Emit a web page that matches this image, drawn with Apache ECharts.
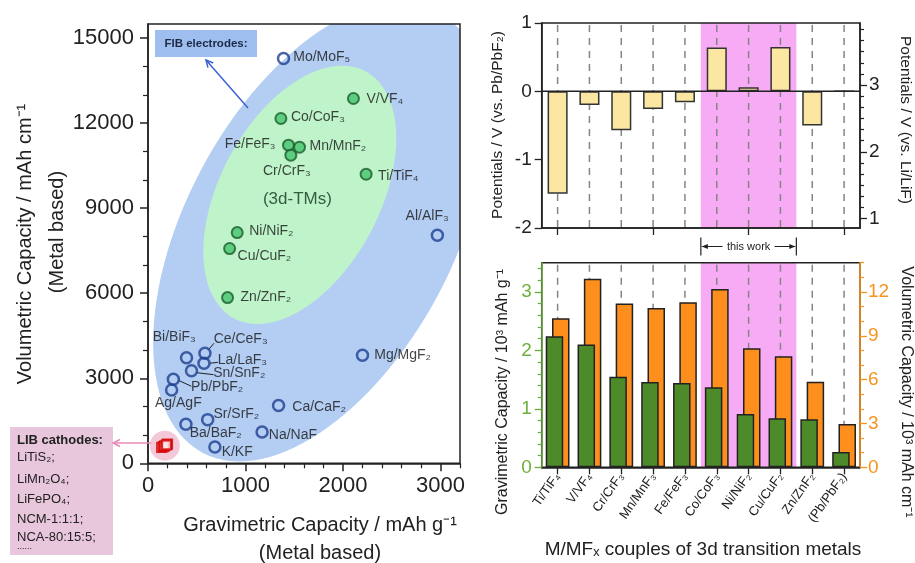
<!DOCTYPE html>
<html><head><meta charset="utf-8">
<script src="https://cdn.jsdelivr.net/npm/echarts@6/dist/echarts.min.js"></script>
<style>html,body{margin:0;padding:0;background:#fff}#c{width:915px;height:563px}</style>
</head><body><div id="c"></div>
<script>
// ---------------- DATA ----------------
// Left scatter: FIB electrodes (open blue circles)
const fibNames = ['Mo/MoF₅','Al/AlF₃','Mg/MgF₂','Bi/BiF₃','Ce/CeF₃','La/LaF₃','Sn/SnF₂','Pb/PbF₂','Ag/AgF','Ca/CaF₂','Sr/SrF₂','Ba/BaF₂','Na/NaF','K/KF'];
const fibGrav  = [1390, 2968, 2200, 395, 584, 574, 446, 260, 242, 1339, 612, 389, 1170, 686];
const fibVol   = [14280, 8047, 3812, 3726, 3882, 3529, 3268, 2965, 2587, 2036, 1541, 1376, 1106, 576];
// 3d transition metals (filled green circles)
const tmNames = ['V/VF₄','Co/CoF₃','Fe/FeF₃','Mn/MnF₂','Cr/CrF₃','Ti/TiF₄','Ni/NiF₂','Cu/CuF₂','Zn/ZnF₂'];
const tmGrav  = [2107, 1363, 1441, 1554, 1465, 2237, 915, 837, 816];
const tmVol   = [12872, 12166, 11224, 11153, 10871, 10200, 8141, 7577, 5847];
// LIB cathodes (red squares)
const libNames = ['LiTiS₂','LiMn₂O₄','LiFePO₄','NCM-1:1:1','NCA-80:15:5'];
const libGrav  = [200, 140, 160, 172, 190];
const libVol   = [680, 560, 590, 620, 650];
// Right panels
const couples = ['Ti/TiF₄','V/VF₄','Cr/CrF₃','Mn/MnF₃','Fe/FeF₃','Co/CoF₃','Ni/NiF₂','Cu/CuF₂','Zn/ZnF₂','(Pb/PbF₂)'];
const potentialVsPb = [-1.50, -0.20, -0.57, -0.26, -0.16, 0.64, 0.06, 0.65, -0.50, 0];
const gravCapacity  = [2.24, 2.10, 1.55, 1.46, 1.44, 1.37, 0.91, 0.84, 0.82, 0.26];   // 10^3 mAh/g
const volCapacity   = [10.2, 12.9, 11.2, 10.9, 11.3, 12.2, 8.15, 7.6, 5.85, 2.97];     // 10^3 mAh/cm3
const thisWork = ['Co/CoF₃', 'Cu/CuF₂'];
// Tick values
const sxMajor = [0, 1000, 2000, 3000];
const syMajor = [0, 3000, 6000, 9000, 12000, 15000];
const potPbMajor = [-2, -1, 0, 1];
const potLiMajor = [1, 2, 3];
const gravMajor = [0, 1, 2, 3];
const volMajor = [0, 3, 6, 9, 12];

// ---------------- STYLE / LAYOUT ----------------
const FONT = '"Liberation Sans", Arial, sans-serif';
const TXT = '#222';
const PINK = '#f8abf5';
const plain = v => String(v);
function range(a, b, s) { const r = []; for (let k = 0; a + k * s <= b + 1e-9; k++) r.push(+(a + k * s).toFixed(6)); return r; }
function minorOf(vals, majors) { return vals.filter(v => !majors.some(m => Math.abs(m - v) < 1e-6)); }
const sxMinor = minorOf(range(0, 3200, 200), sxMajor);
const syMinor = minorOf(range(0, 15000, 1000), syMajor);
const potLiMinor = minorOf(range(1, 3.93, 1 / 6), potLiMajor);
const gravMinor = minorOf(range(0, 3.4, 0.2), gravMajor);
const volMinor = minorOf(range(0, 14, 1), volMajor);

// label offsets (px) from point centre: [dx, dy, align]
const LABELS = {
  'Mo/MoF₅': [11, 0, 'left'], 'Al/AlF₃': [-9, -18, 'center'], 'Mg/MgF₂': [13, 1, 'left'],
  'Bi/BiF₃': [-11, -19, 'center'], 'Ce/CeF₃': [10, -13, 'left'], 'La/LaF₃': [15, -2, 'left'],
  'Sn/SnF₂': [23, 4, 'left'], 'Pb/PbF₂': [19, 9, 'left'], 'Ag/AgF': [8, 14, 'center'],
  'Ca/CaF₂': [15, 3, 'left'], 'Sr/SrF₂': [7, -4, 'left'], 'Ba/BaF₂': [5, 10, 'left'],
  'Na/NaF': [8, 4, 'left'], 'K/KF': [8, 6, 'left'],
  'V/VF₄': [14, 2, 'left'], 'Co/CoF₃': [11, 0, 'left'], 'Fe/FeF₃': [-12, 0, 'right'],
  'Mn/MnF₂': [11, 0, 'left'], 'Cr/CrF₃': [-3, 17, 'center'], 'Ti/TiF₄': [13, 3, 'left'],
  'Ni/NiF₂': [13, 0, 'left'], 'Cu/CuF₂': [9, 9, 'left'], 'Zn/ZnF₂': [14, 1, 'left']
};
const LEADERS = { 'Ce/CeF₃': [[4, -4], [9, -10]], 'La/LaF₃': [[6, 0], [14, -1]], 'Sn/SnF₂': [[5, 2], [22, 4]], 'Pb/PbF₂': [[5, 1], [18, 7]] };
// background ellipses: centre in data units, semi-axes in px, tilt in degrees
const ELLIPSES = [
  { cx: 1762, cy: 8164, a: 250, b: 134, angle: 62, color: '#b3cdf3' },
  { cx: 1557, cy: 9470, a: 140, b: 80, angle: 62, color: '#bff4ca' }
];
const TM_NOTE = { x: 1532, y: 9318, text: '(3d-TMs)' };

const SYM = 11;
function pointData(names, xs, ys) {
  return names.map((n, i) => {
    const l = LABELS[n] || [10, 0, 'left'];
    return { name: n, value: [xs[i], ys[i]], label: { position: [SYM / 2 + l[0], SYM / 2 + l[1]], align: l[2] } };
  });
}
const ptLabel = { show: true, formatter: '{b}', verticalAlign: 'middle', fontSize: 14, color: '#151515', fontFamily: FONT };

function axisBase(extra) {
  return Object.assign({
    z: 11, splitLine: { show: false },
    axisLine: { show: true, onZero: false, lineStyle: { color: TXT, width: 1.5 } },
    axisTick: { show: true, inside: false, length: 7, lineStyle: { color: TXT, width: 1.3 } },
    axisLabel: { color: TXT, fontFamily: FONT, fontSize: 19 }
  }, extra);
}
function tickOnly(extra, vals, len, color) {
  return Object.assign({
    z: 11, splitLine: { show: false }, axisLine: { show: false, onZero: false },
    axisLabel: { show: false },
    axisTick: { show: true, length: len, customValues: vals, lineStyle: { color: color, width: 1.2 } }
  }, extra);
}
function lbl(vals, size, margin, color) {
  return { customValues: vals, formatter: plain, fontSize: size, margin: margin, color: color || TXT, fontFamily: FONT };
}
function tk(vals, len, color, w) {
  return { show: true, length: len, customValues: vals, lineStyle: { color: color || TXT, width: w || 1.3 } };
}

function ellipseRender(params, api) {
  const e = ELLIPSES[params.dataIndex];
  const c = api.coord([api.value(0), api.value(1)]);
  const th = e.angle * Math.PI / 180, pts = [];
  for (let i = 0; i < 120; i++) {
    const t = i / 120 * 2 * Math.PI, u = e.a * Math.cos(t), v = e.b * Math.sin(t);
    pts.push([c[0] + u * Math.cos(th) - v * Math.sin(th), c[1] - (u * Math.sin(th) + v * Math.cos(th))]);
  }
  return { type: 'polygon', shape: { points: pts }, style: { fill: e.color } };
}
function bandRender(withBracket) {
  return function (params, api) {
    const cs = params.coordSys;
    const bw = api.coord([1, 0])[0] - api.coord([0, 0])[0];
    const x0 = api.coord([api.value(0), 0])[0] - bw / 2;
    const x1 = api.coord([api.value(1), 0])[0] + bw / 2;
    const ch = [{ type: 'rect', shape: { x: x0, y: cs.y, width: x1 - x0, height: cs.height }, style: { fill: PINK } }];
    if (withBracket) {
      const yb = cs.y + cs.height + 18.5, xc = (x0 + x1) / 2, s = { stroke: TXT, lineWidth: 1.2 };
      ch.push(
        { type: 'line', shape: { x1: x0, y1: yb - 9, x2: x0, y2: yb + 9 }, style: s },
        { type: 'line', shape: { x1: x1, y1: yb - 9, x2: x1, y2: yb + 9 }, style: s },
        { type: 'line', shape: { x1: x0 + 1, y1: yb, x2: xc - 26, y2: yb }, style: { stroke: TXT, lineWidth: 1 } },
        { type: 'line', shape: { x1: xc + 26, y1: yb, x2: x1 - 1, y2: yb }, style: { stroke: TXT, lineWidth: 1 } },
        { type: 'polygon', shape: { points: [[x0 + 1, yb], [x0 + 7, yb - 2.5], [x0 + 7, yb + 2.5]] }, style: { fill: TXT } },
        { type: 'polygon', shape: { points: [[x1 - 1, yb], [x1 - 7, yb - 2.5], [x1 - 7, yb + 2.5]] }, style: { fill: TXT } },
        { type: 'text', x: xc, y: yb, style: { text: 'this work', fontSize: 11, fontFamily: FONT, fill: TXT, align: 'center', verticalAlign: 'middle' } }
      );
    }
    return { type: 'group', children: ch };
  };
}
function dashRender(params, api) {
  const cs = params.coordSys;
  const x = api.coord([api.value(0), 0])[0];
  return { type: 'line', shape: { x1: x, y1: cs.y + 2, x2: x, y2: cs.y + cs.height }, style: { stroke: '#858585', lineWidth: 1.5, lineDash: [7, 6] } };
}
function arrow(x1, y1, x2, y2, color, w) {
  const dx = x2 - x1, dy = y2 - y1, L = Math.hypot(dx, dy), ux = dx / L, uy = dy / L, px = -uy, py = ux, h = 7, hw = 3.5;
  return [
    { type: 'line', shape: { x1, y1, x2, y2 }, style: { stroke: color, lineWidth: w } },
    { type: 'polyline', shape: { points: [[x2 - h * ux + hw * px, y2 - h * uy + hw * py], [x2, y2], [x2 - h * ux - hw * px, y2 - h * uy - hw * py]] }, style: { stroke: color, lineWidth: w, fill: null } }
  ];
}
function gtext(x, y, text, size, rot, extra) {
  return { type: 'text', x, y, rotation: rot || 0, z: 20,
    style: Object.assign({ text, fontSize: size, fontFamily: FONT, fill: TXT, align: 'center', verticalAlign: 'middle' }, extra || {}) };
}

const chart = echarts.init(document.getElementById('c'));
const gridStyle = { show: true, borderColor: TXT, borderWidth: 1.5, backgroundColor: 'transparent', z: 10, containLabel: false, outerBoundsMode: 'none' };
const idxThis = [couples.indexOf(thisWork[0]), couples.indexOf(thisWork[1])];
const libCenter = [libGrav.reduce((a, b) => a + b) / libGrav.length, libVol.reduce((a, b) => a + b) / libVol.length];

const option = {
  animation: false,
  textStyle: { fontFamily: FONT },
  grid: [
    Object.assign({ left: 148, top: 24, width: 312, height: 439.3 }, gridStyle),
    Object.assign({ left: 541.7, top: 23, width: 318.3, height: 205 }, gridStyle),
    Object.assign({ left: 541.7, top: 262.7, width: 318.3, height: 204.6 }, gridStyle)
  ],
  xAxis: [
    axisBase({ type: 'value', gridIndex: 0, min: 0, max: 3200, position: 'bottom',
      axisTick: tk(sxMajor, 8, TXT, 1.5), axisLabel: lbl(sxMajor, 22, 12) }),
    tickOnly({ type: 'value', gridIndex: 0, min: 0, max: 3200, position: 'bottom' }, sxMinor, 5, TXT),
    axisBase({ type: 'category', gridIndex: 1, data: couples, position: 'bottom',
      axisTick: { show: true, alignWithLabel: true, length: 7, lineStyle: { color: TXT, width: 1.3 } },
      axisLabel: { show: false } }),
    axisBase({ type: 'category', gridIndex: 2, data: couples, position: 'bottom',
      axisTick: { show: true, alignWithLabel: true, length: 7, lineStyle: { color: TXT, width: 1.3 } },
      axisLabel: { interval: 0, rotate: 55, fontSize: 13, margin: 7, color: TXT, fontFamily: FONT } })
  ],
  yAxis: [
    axisBase({ type: 'value', gridIndex: 0, min: 0, max: 15500, position: 'left',
      axisTick: tk(syMajor, 8, TXT, 1.5), axisLabel: lbl(syMajor, 22, 14) }),
    tickOnly({ type: 'value', gridIndex: 0, min: 0, max: 15500, position: 'left' }, syMinor, 5, TXT),
    axisBase({ type: 'value', gridIndex: 1, min: -2, max: 1, position: 'left',
      axisTick: tk(potPbMajor, 7), axisLabel: { show: false } }),
    axisBase({ type: 'value', gridIndex: 1, min: 0.86, max: 3.93, position: 'right',
      axisTick: tk(potLiMajor, 7), axisLabel: lbl(potLiMajor, 19, 9) }),
    tickOnly({ type: 'value', gridIndex: 1, min: 0.86, max: 3.93, position: 'right' }, potLiMinor, 4, TXT),
    axisBase({ type: 'value', gridIndex: 2, min: 0, max: 3.5, position: 'left',
      axisLine: { show: true, onZero: false, lineStyle: { color: '#6aac3c', width: 1.5 } },
      axisTick: tk(gravMajor, 7, '#6aac3c'), axisLabel: lbl(gravMajor, 19, 10, '#6fb03f') }),
    tickOnly({ type: 'value', gridIndex: 2, min: 0, max: 3.5, position: 'left' }, gravMinor, 4, '#6aac3c'),
    axisBase({ type: 'value', gridIndex: 2, min: 0, max: 14, position: 'right',
      axisLine: { show: true, onZero: false, lineStyle: { color: '#f7931e', width: 1.5 } },
      axisTick: tk(volMajor, 7, '#f7931e'), axisLabel: lbl(volMajor, 19, 8, '#f7931e') }),
    tickOnly({ type: 'value', gridIndex: 2, min: 0, max: 14, position: 'right' }, volMinor, 4, '#f7931e')
  ],
  series: [
    // ---- scatter panel ----
    { type: 'custom', xAxisIndex: 0, yAxisIndex: 0, clip: true, z: 0, silent: true,
      data: ELLIPSES.map(e => [e.cx, e.cy]), renderItem: ellipseRender },
    { type: 'custom', xAxisIndex: 0, yAxisIndex: 0, z: 1, silent: true, data: [libCenter],
      renderItem: (p, api) => { const c = api.coord([api.value(0), api.value(1)]);
        return { type: 'circle', shape: { cx: c[0], cy: c[1], r: 15 }, style: { fill: '#f3c9da' } }; } },
    { type: 'custom', xAxisIndex: 0, yAxisIndex: 0, z: 1, silent: true, data: [[TM_NOTE.x, TM_NOTE.y]],
      renderItem: (p, api) => { const c = api.coord([api.value(0), api.value(1)]);
        return { type: 'text', x: c[0], y: c[1], style: { text: TM_NOTE.text, fontSize: 17, fontFamily: FONT, fill: '#355e40', align: 'center', verticalAlign: 'middle' } }; } },
    { type: 'custom', xAxisIndex: 0, yAxisIndex: 0, z: 3, silent: true,
      data: Object.keys(LEADERS).map(n => { const i = fibNames.indexOf(n); return [fibGrav[i], fibVol[i]]; }),
      renderItem: (p, api) => { const o = LEADERS[Object.keys(LEADERS)[p.dataIndex]]; const c = api.coord([api.value(0), api.value(1)]);
        return { type: 'line', shape: { x1: c[0] + o[0][0], y1: c[1] + o[0][1], x2: c[0] + o[1][0], y2: c[1] + o[1][1] }, style: { stroke: TXT, lineWidth: 1 } }; } },
    { type: 'scatter', name: 'FIB', xAxisIndex: 0, yAxisIndex: 0, z: 4, symbol: 'circle', symbolSize: SYM,
      itemStyle: { color: 'rgba(255,255,255,0)', borderColor: '#1d3f8e', borderWidth: 2.5 },
      label: ptLabel, data: pointData(fibNames, fibGrav, fibVol) },
    { type: 'scatter', name: '3d-TMs', xAxisIndex: 0, yAxisIndex: 0, z: 4, symbol: 'circle', symbolSize: SYM,
      itemStyle: { color: '#45c46d', borderColor: '#1b5d2d', borderWidth: 2 },
      label: ptLabel, data: pointData(tmNames, tmGrav, tmVol) },
    { type: 'scatter', name: 'LIB', xAxisIndex: 0, yAxisIndex: 0, z: 4, symbol: 'rect', symbolSize: 9,
      itemStyle: { color: '#fbe6e6', borderColor: '#d40000', borderWidth: 2.2 },
      data: libNames.map((n, i) => ({ name: n, value: [libGrav[i], libVol[i]] })) },
    // ---- top bar panel ----
    { type: 'custom', xAxisIndex: 2, yAxisIndex: 2, z: 0, silent: true, data: [idxThis], renderItem: bandRender(true) },
    { type: 'custom', xAxisIndex: 2, yAxisIndex: 2, z: 1, silent: true, data: couples.map((c, i) => [i, 0]), renderItem: dashRender },
    { type: 'bar', xAxisIndex: 2, yAxisIndex: 2, z: 3, barWidth: '63%', data: potentialVsPb,
      itemStyle: { color: '#fbe7a1', borderColor: '#333', borderWidth: 1.5 } },
    { type: 'custom', xAxisIndex: 2, yAxisIndex: 2, z: 5, silent: true, data: [[0, 0]],
      renderItem: (p, api) => { const cs = p.coordSys; const y = api.coord([0, 0])[1];
        return { type: 'line', shape: { x1: cs.x, y1: y, x2: cs.x + cs.width, y2: y }, style: { stroke: TXT, lineWidth: 1.5 } }; } },
    // ---- bottom bar panel ----
    { type: 'custom', xAxisIndex: 3, yAxisIndex: 5, z: 0, silent: true, data: [idxThis], renderItem: bandRender(false) },
    { type: 'custom', xAxisIndex: 3, yAxisIndex: 5, z: 1, silent: true, data: couples.map((c, i) => [i, 0]), renderItem: dashRender },
    { type: 'bar', name: 'Gravimetric', xAxisIndex: 3, yAxisIndex: 5, z: 4, barWidth: 17.5, barGap: '-64%', data: gravCapacity,
      itemStyle: { color: '#4d8b2a', borderColor: '#222', borderWidth: 1.5 } },
    { type: 'bar', name: 'Volumetric', xAxisIndex: 3, yAxisIndex: 7, z: 3, barWidth: 17.5, barGap: '-64%', data: volCapacity,
      itemStyle: { color: '#ff8f1c', borderColor: '#222', borderWidth: 1.5 } }
  ],
  graphic: [].concat(
    [
      gtext(25, 244, 'Volumetric Capacity / mAh cm⁻¹', 20, Math.PI / 2),
      gtext(57, 232, '(Metal based)', 20, Math.PI / 2),
      gtext(320, 525, 'Gravimetric Capacity / mAh g⁻¹', 20, 0),
      gtext(320, 553, '(Metal based)', 20, 0),
      { type: 'rect', shape: { x: 155, y: 30, width: 102, height: 27 }, style: { fill: '#9fbef0' }, z: 20 },
      gtext(206, 44, 'FIB electrodes:', 11.5, 0, { fontWeight: 'bold', fill: '#1c2a44' }),
      { type: 'rect', shape: { x: 10, y: 427, width: 103, height: 128 }, style: { fill: '#e8c6dc' }, z: 20 },
      gtext(17, 440, 'LIB cathodes:', 13, 0, { fontWeight: 'bold', align: 'left' })
    ],
    libNames.map((n, i) => gtext(17, [457, 479, 499, 519, 537][i], n + ';', 13, 0, { align: 'left' })),
    [gtext(17, 547, '......', 9, 0, { align: 'left' })],
    arrow(248, 108, 206, 60, '#3a62d0', 1.5).map(e => Object.assign(e, { z: 20 })),
    arrow(151, 443, 113, 443, '#e98bb4', 1.5).map(e => Object.assign(e, { z: 20 })),
    [
      gtext(498, 125, 'Potentials / V (vs. Pb/PbF₂)', 15.5, Math.PI / 2),
      gtext(905, 120, 'Potentials / V (vs. Li/LiF)', 15.5, -Math.PI / 2),
      gtext(503, 392, 'Gravimetric Capacity / 10³ mAh g⁻¹', 16, Math.PI / 2),
      gtext(906, 392, 'Volumetric Capacity / 10³ mAh cm⁻¹', 16, -Math.PI / 2),
      gtext(703, 550, 'M/MFₓ couples of 3d transition metals', 19, 0)
    ]
  )
};
chart.setOption(option);
// tick labels of the left potential axis, positioned through the axis scale, drawn on top
const potLabels = potPbMajor.map(v => {
  const y = chart.convertToPixel({ yAxisIndex: 2 }, v);
  return { type: 'text', x: 531.7, y: y, z: 100, zlevel: 1,
    style: { text: String(v), fontSize: 19, fontFamily: FONT, fill: TXT, align: 'right', verticalAlign: 'middle' } };
});
chart.setOption({ graphic: option.graphic.concat(potLabels) });
</script>
</body></html>
